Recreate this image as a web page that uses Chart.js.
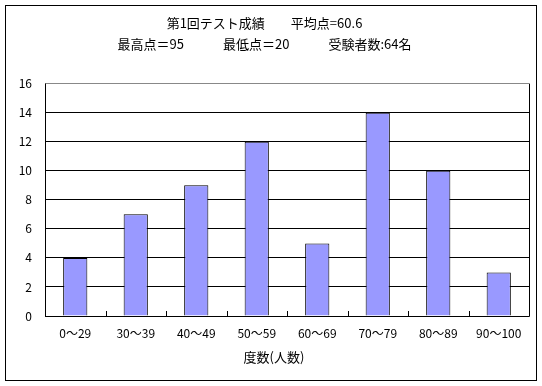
<!DOCTYPE html>
<html lang="ja">
  <head>
    <meta charset="UTF-8" />
    <title>第1回テスト成績</title>
    <script src="https://cdn.jsdelivr.net/npm/chart.js"></script>
    <style>
      html, body { margin: 0; padding: 0; background: #fff; }
      #wrap { position: relative; width: 542px; height: 386px; }
    </style>
  </head>
  <body>
    <div id="wrap"><canvas id="scoreChart" width="542" height="386"></canvas></div>
    <script>
      const ranges = ["0～29", "30～39", "40～49", "50～59", "60～69", "70～79", "80～89", "90～100"];
      const counts = [4, 7, 9, 12, 5, 14, 10, 3];
      const yTicks = [0, 2, 4, 6, 8, 10, 12, 14, 16];
      const titleLines = ["第1回テスト成績　　平均点=60.6", "最高点＝95　　　最低点＝20　　　受験者数:64名"];
      const xTitle = "度数(人数)";

      const font = '"Noto Sans CJK JP", "DejaVu Sans", sans-serif';

      // outer frame, plot frame, inner tick marks, axis title
      const framePlugin = {
        id: "frame",
        afterDraw(chart) {
          const { ctx, chartArea: a, scales } = chart;
          ctx.save();
          ctx.strokeStyle = "#000";
          ctx.lineWidth = 1;
          ctx.strokeRect(5.5, 5.5, 531, 375);
          ctx.beginPath();
          ctx.moveTo(Math.round(a.left) + 0.5, a.top);
          ctx.lineTo(Math.round(a.left) + 0.5, Math.round(a.bottom) + 0.5);
          ctx.lineTo(Math.round(a.right) + 0.5, Math.round(a.bottom) + 0.5);
          ctx.lineTo(Math.round(a.right) + 0.5, a.top);
          ctx.stroke();
          const x = scales.x;
          const step = (a.right - a.left) / ranges.length;
          ctx.beginPath();
          for (let i = 1; i < ranges.length; i++) {
            const px = Math.round(x.getPixelForValue(i) - step / 2) + 0.5;
            ctx.moveTo(px, a.bottom);
            ctx.lineTo(px, a.bottom - 5);
          }
          ctx.stroke();
          ctx.fillStyle = "#000";
          ctx.font = "13px " + font;
          ctx.textAlign = "center";
          ctx.textBaseline = "middle";
          ctx.fillText(xTitle, 274, 357);
          ctx.restore();
        }
      };

      new Chart(document.getElementById("scoreChart"), {
        type: "bar",
        data: {
          labels: ranges,
          datasets: [{
            data: counts,
            backgroundColor: "#9999ff",
            borderColor: "#000",
            borderWidth: 1,
            barPercentage: 0.8,
            categoryPercentage: 0.5
          }]
        },
        options: {
          responsive: false,
          animation: false,
          layout: { padding: { left: 0, right: 13, top: 0, bottom: 0 } },
          plugins: {
            legend: { display: false },
            tooltip: { enabled: false },
            title: {
              display: true,
              text: titleLines,
              color: "#000",
              font: { family: font, size: 13, weight: "normal", lineHeight: 1.6 },
              padding: { top: 13, bottom: 29 }
            }
          },
          scales: {
            x: {
              grid: { display: false, drawTicks: false },
              border: { display: false },
              ticks: { color: "#000", font: { family: font, size: 12 }, padding: 10, maxRotation: 0, autoSkip: false },
              afterFit(s) { s.height = 70; }
            },
            y: {
              min: 0,
              max: 16,
              afterBuildTicks(s) { s.ticks = yTicks.map(v => ({ value: v })); },
              grid: {
                color: c => (c.tick && c.tick.value === 16 ? "#888" : "#000"),
                drawTicks: false,
                lineWidth: 1
              },
              border: { display: false },
              ticks: { color: "#000", font: { family: font, size: 12 }, padding: 13 },
              afterFit(s) { s.width = 45; }
            }
          }
        },
        plugins: [framePlugin]
      });
    </script>
  </body>
</html>
